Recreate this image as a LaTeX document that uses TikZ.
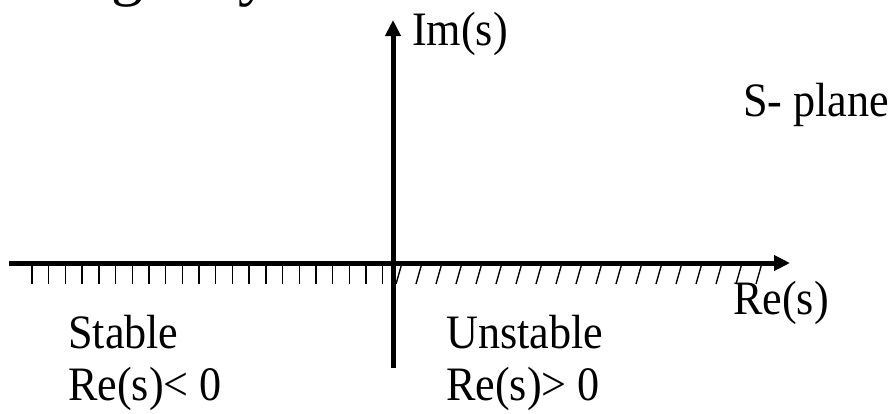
\documentclass[tikz,border=0pt]{standalone}
\usepackage{fontspec}
\usepackage{graphicx}
\setmainfont{Liberation Serif}
\usetikzlibrary{arrows.meta}
\newcommand\narrowtxt[1]{\scalebox{0.92}[1]{#1}}
\begin{document}
\begin{tikzpicture}[x=1pt,y=-1pt,
  axis/.style={line width=5pt,-{Triangle[length=16pt,width=15pt]}},
  hatchline/.style={line width=1.4pt},
  lbl/.style={font=\fontsize{48}{52}\selectfont,inner sep=0pt,anchor=base west},
  titlefrag/.style={font=\fontsize{64}{70}\selectfont,inner sep=0pt,anchor=base west}]
\useasboundingbox (0,0) rectangle (893,413);
\begin{scope}
\clip (0,0) rectangle (893,413);
\node[titlefrag] (tg) at (111,-7) {g};
\node[titlefrag] (ty) at (238,-7) {y};
\end{scope}
% hatching
\foreach \i in {0,...,21} \draw[hatchline] ({32+\i*16.7},263) -- ++(0,21);
\foreach \i in {0,...,18} \draw[hatchline] ({396+\i*20},284) -- ++(6,-21);
% axes
\coordinate (xl) at (9,263);
\coordinate (xr) at (790,263);
\coordinate (yb) at (393,368);
\coordinate (yt) at (393,20);
\draw[axis] (xl) -- (xr);
\draw[axis] (yb) -- (yt);
% labels
\node[lbl] (im) at (412,45) {\narrowtxt{Im(s)}};
\node[lbl] (re) at (733,314) {\narrowtxt{Re(s)}};
\node[lbl] (sp) at (743,116) {\narrowtxt{S- plane}};
\node[lbl] (st) at (68,348) {\narrowtxt{Stable}};
\node[lbl] (stc) at (68,400) {\narrowtxt{Re(s)< 0}};
\node[lbl] (un) at (446,348) {\narrowtxt{Unstable}};
\node[lbl] (unc) at (446,400) {\narrowtxt{Re(s)> 0}};
\end{tikzpicture}
\end{document}
